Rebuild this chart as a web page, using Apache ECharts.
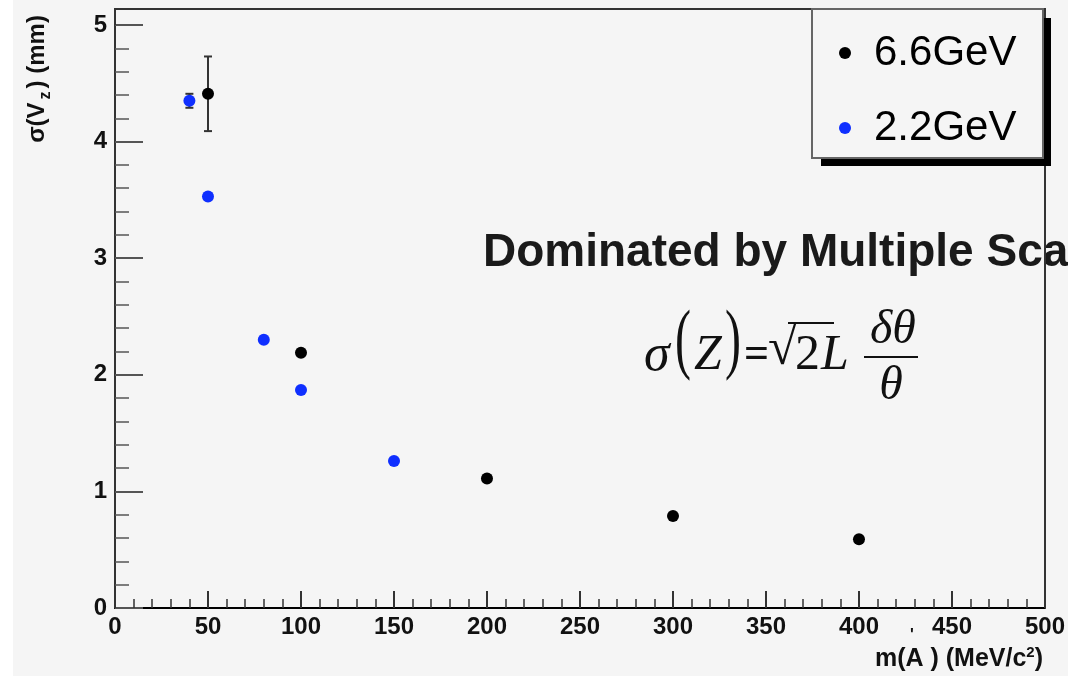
<!DOCTYPE html>
<html>
<head>
<meta charset="utf-8">
<script src="https://cdn.jsdelivr.net/npm/echarts@6/dist/echarts.min.js"></script>
<style>html,body{margin:0;padding:0;background:#fff}#c{width:1068px;height:676px}</style>
</head>
<body>
<div id="c"></div>
<script>
// ---- data ----
const mass66 = [50, 100, 200, 300, 400];
const sigma66 = [4.41, 2.19, 1.11, 0.79, 0.59];
const err66 = [0.32, 0, 0, 0, 0];
const mass22 = [40, 50, 80, 100, 150];
const sigma22 = [4.35, 3.53, 2.30, 1.87, 1.26];
const err22 = [0.06, 0, 0, 0, 0];
const seriesNames = ['6.6GeV', '2.2GeV'];
const xTicks = [0, 50, 100, 150, 200, 250, 300, 350, 400, 450, 500];
const yTicks = [0, 1, 2, 3, 4, 5];

const chart = echarts.init(document.getElementById('c'), null, {renderer: 'canvas'});
const lab = {fontSize: 24, fontWeight: 'bold', color: '#111', fontFamily: 'Liberation Sans'};

const errData = [];
mass66.forEach((x, i) => { if (err66[i] > 0) errData.push([x, sigma66[i], err66[i]]); });
mass22.forEach((x, i) => { if (err22[i] > 0) errData.push([x, sigma22[i], err22[i]]); });

const serif = '"Liberation Serif", serif';
const option = {
  backgroundColor: '#f5f5f5',
  animation: false,
  grid: {left: 115, right: 23, top: 25, bottom: 68},
  xAxis: {
    type: 'value', min: xTicks[0], max: xTicks[xTicks.length - 1], interval: xTicks[1] - xTicks[0],
    axisLine: {show: true, lineStyle: {color: '#000', width: 2}},
    axisTick: {show: true, inside: true, length: 17, lineStyle: {color: '#333', width: 2}},
    minorTick: {show: true, splitNumber: 5, length: 9, lineStyle: {color: '#333', width: 1.5}},
    splitLine: {show: false},
    axisLabel: Object.assign({margin: 7}, lab)
  },
  yAxis: {
    type: 'value', min: yTicks[0], max: yTicks[yTicks.length - 1], interval: 1,
    axisLine: {show: true, lineStyle: {color: '#333', width: 2}},
    axisTick: {show: true, inside: true, length: 28, lineStyle: {color: '#555', width: 2}},
    minorTick: {show: true, splitNumber: 5, length: 14, lineStyle: {color: '#555', width: 1.5}},
    splitLine: {show: false},
    axisLabel: Object.assign({margin: 8}, lab)
  },
  legend: {
    orient: 'vertical', left: 834, top: 27, itemWidth: 12, itemHeight: 12, itemGap: 33,
    icon: 'circle', z: 10,
    textStyle: {fontSize: 42, lineHeight: 42, color: '#000', fontFamily: 'Liberation Sans', padding: [0, 0, 0, 18]},
    data: seriesNames
  },
  series: [
    {name: seriesNames[0], type: 'scatter', symbolSize: 12, itemStyle: {color: '#000', opacity: 1},
     data: mass66.map((x, i) => [x, sigma66[i]]), z: 3},
    {name: seriesNames[1], type: 'scatter', symbolSize: 12, itemStyle: {color: '#0f2fff', opacity: 1},
     data: mass22.map((x, i) => [x, sigma22[i]]), z: 3},
    {type: 'custom', data: errData, z: 2,
     renderItem: function (params, api) {
       const x = api.value(0), y = api.value(1), e = api.value(2);
       const hi = api.coord([x, y + e]), lo = api.coord([x, y - e]);
       const st = {stroke: '#333', lineWidth: 2};
       return {type: 'group', children: [
         {type: 'line', shape: {x1: hi[0], y1: hi[1], x2: lo[0], y2: lo[1]}, style: st},
         {type: 'line', shape: {x1: hi[0] - 4, y1: hi[1], x2: hi[0] + 4, y2: hi[1]}, style: st},
         {type: 'line', shape: {x1: lo[0] - 4, y1: lo[1], x2: lo[0] + 4, y2: lo[1]}, style: st}
       ]};
     }}
  ],
  graphic: [
    {type: 'rect', shape: {x: 0, y: 0, width: 13, height: 676}, style: {fill: '#fff'}, z: 0},
    {type: 'text', x: 483, y: 253, z: 1,
     style: {text: 'Dominated by Multiple Scattering', font: 'bold 46px "Liberation Sans"', fill: '#1a1a1a', align: 'left', verticalAlign: 'middle'}},
    // frame
    {type: 'polyline', z: 2, shape: {points: [[115, 25], [115, 9], [1045, 9], [1045, 608]]}, style: {stroke: '#333', lineWidth: 2, fill: null}},
    // legend box
    {type: 'rect', z: 3, shape: {x: 821, y: 18, width: 230, height: 148}, style: {fill: '#000'}},
    {type: 'rect', z: 4, shape: {x: 812, y: 9, width: 231, height: 149}, style: {fill: '#f5f5f5', stroke: '#666', lineWidth: 2}},
    // y title
    {type: 'text', x: 37, y: 79, rotation: Math.PI / 2, z: 5,
     style: {text: '{a|σ(V}{s|z}{a|) (mm)}', align: 'center', verticalAlign: 'middle',
       rich: {a: {font: 'bold 24px "Liberation Sans"', fill: '#111', lineHeight: 34, verticalAlign: 'middle'},
              s: {font: 'bold 16px "Liberation Sans"', fill: '#111', lineHeight: 34, verticalAlign: 'bottom', padding: [0, 3, 0, 3]}}}},
    // x title
    {type: 'text', x: 1043, y: 659, z: 5,
     style: {text: '{a|m(A ) (MeV/c}{p|2}{a|)}', align: 'right', verticalAlign: 'middle',
       rich: {a: {font: 'bold 25px "Liberation Sans"', fill: '#111', lineHeight: 32, verticalAlign: 'middle'},
              p: {font: 'bold 15px "Liberation Sans"', fill: '#111', lineHeight: 32, verticalAlign: 'top', padding: [2, 0, 0, 0]}}}},
    {type: 'text', x: 912, y: 636, z: 5, style: {text: "'", font: 'bold 16px "Liberation Sans"', fill: '#111', align: 'center', verticalAlign: 'middle'}},
    // formula
    {type: 'text', x: 644, y: 356, z: 5, style: {text: 'σ', font: 'italic 52px ' + serif, fill: '#111', align: 'left', verticalAlign: 'middle'}},
    {type: 'text', x: 675, y: 343, scaleY: 1.65, z: 5, style: {text: '(', font: '48px ' + serif, fill: '#111', align: 'left', verticalAlign: 'middle'}},
    {type: 'text', x: 694, y: 356, z: 5, style: {text: 'Z', font: 'italic 50px ' + serif, fill: '#111', align: 'left', verticalAlign: 'middle'}},
    {type: 'text', x: 725, y: 343, scaleY: 1.65, z: 5, style: {text: ')', font: '48px ' + serif, fill: '#111', align: 'left', verticalAlign: 'middle'}},
    {type: 'text', x: 744, y: 356, z: 5, style: {text: '=', font: 'bold 44px ' + serif, fill: '#111', align: 'left', verticalAlign: 'middle'}},
    {type: 'text', x: 768, y: 350, z: 5, style: {text: '√', font: '52px ' + serif, fill: '#111', align: 'left', verticalAlign: 'middle'}},
    {type: 'line', z: 5, shape: {x1: 788, y1: 323, x2: 834, y2: 323}, style: {stroke: '#111', lineWidth: 2}},
    {type: 'text', x: 795, y: 356, z: 5, style: {text: '2', font: '50px ' + serif, fill: '#111', align: 'left', verticalAlign: 'middle'}},
    {type: 'text', x: 821, y: 356, z: 5, style: {text: 'L', font: 'italic 50px ' + serif, fill: '#111', align: 'left', verticalAlign: 'middle'}},
    {type: 'line', z: 5, shape: {x1: 864, y1: 357, x2: 918, y2: 357}, style: {stroke: '#111', lineWidth: 2}},
    {type: 'text', x: 893, y: 330, z: 5, style: {text: 'δθ', font: 'italic 48px ' + serif, fill: '#111', align: 'center', verticalAlign: 'middle'}},
    {type: 'text', x: 891, y: 386, z: 5, style: {text: 'θ', font: 'italic 48px ' + serif, fill: '#111', align: 'center', verticalAlign: 'middle'}}
  ]
};
chart.setOption(option);
</script>
</body>
</html>
